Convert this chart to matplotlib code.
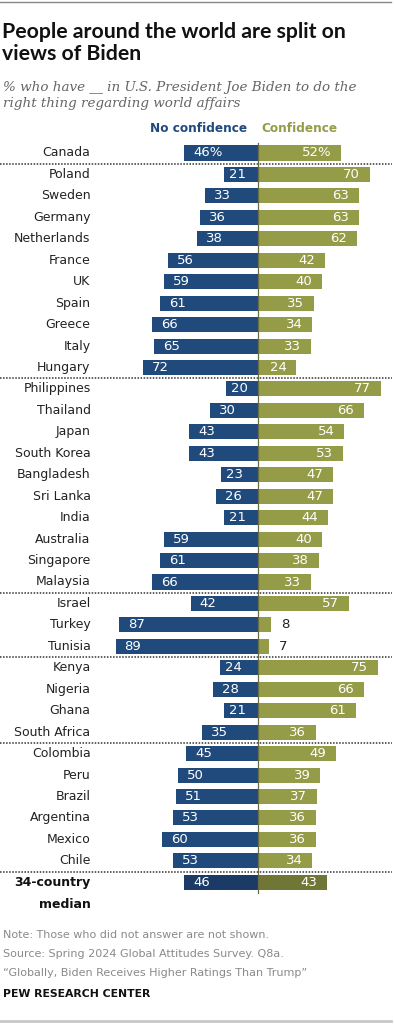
import matplotlib
matplotlib.use("Agg")
import matplotlib.pyplot as plt

# DATA
countries = ["Canada", "Poland", "Sweden", "Germany", "Netherlands", "France", "UK",
             "Spain", "Greece", "Italy", "Hungary", "Philippines", "Thailand", "Japan",
             "South Korea", "Bangladesh", "Sri Lanka", "India", "Australia", "Singapore",
             "Malaysia", "Israel", "Turkey", "Tunisia", "Kenya", "Nigeria", "Ghana",
             "South Africa", "Colombia", "Peru", "Brazil", "Argentina", "Mexico", "Chile"]
no_conf = [46, 21, 33, 36, 38, 56, 59, 61, 66, 65, 72, 20, 30, 43, 43, 23, 26, 21, 59, 61,
           66, 42, 87, 89, 24, 28, 21, 35, 45, 50, 51, 53, 60, 53]
conf = [52, 70, 63, 63, 62, 42, 40, 35, 34, 33, 24, 77, 66, 54, 53, 47, 47, 44, 40, 38,
        33, 57, 8, 7, 75, 66, 61, 36, 49, 39, 37, 36, 36, 34]
median_label = "34-country\nmedian"
median_no, median_conf = 46, 43
group_ends = [0, 10, 20, 23, 27, 33]

# COLORS
BLUE = "#204a7c"
OLIVE = "#959c48"
BLUE_DARK = "#1b3a66"
OLIVE_DARK = "#6f7636"
GRAY = "#8a8a8a"

W, H = 394, 1024
CX = 258.0      # pixel x of the zero line
PXU = 1.6       # pixels per percentage point
Y0 = 153.0      # pixel y of first row
DY = 21.45      # pixel row spacing

fig = plt.figure(figsize=(W / 100, H / 100), dpi=100)
ax = fig.add_axes([0, 0, 1, 1])
ax.set_xlim(-CX / PXU, (W - CX) / PXU)
ax.set_ylim((H - Y0) / DY, -Y0 / DY)
ax.axis("off")

def fx(px):
    return px / W

def fy(py):
    return 1 - py / H

n = len(countries)
ys = list(range(n))
bh = 0.70

ax.barh(ys, [-v for v in no_conf], height=bh, color=BLUE)
ax.barh(ys, conf, height=bh, color=OLIVE)
ax.barh([n], [-median_no], height=bh, color=BLUE_DARK)
ax.barh([n], [median_conf], height=bh, color=OLIVE_DARK)

lab_x = (90.5 - CX) / PXU
pad_b = 9 / PXU
pad_o = 10 / PXU
for i, (c, a, b) in enumerate(zip(countries, no_conf, conf)):
    ax.text(lab_x, i, c, ha="right", va="center", fontsize=9, color="#222222")
    sa = f"{a}%" if i == 0 else f"{a}"
    sb = f"{b}%" if i == 0 else f"{b}"
    ax.text(-a + (pad_b if a > 25 else 5 / PXU), i, sa, ha="left", va="center",
            fontsize=9.5, color="white")
    if b >= 12:
        ax.text(b - pad_o, i, sb, ha="right", va="center", fontsize=9.5, color="white")
    else:
        ax.text(b + pad_o, i, sb, ha="left", va="center", fontsize=9.5, color="#222222")

ax.text(-median_no + pad_b, n, str(median_no), ha="left", va="center", fontsize=9.5, color="white")
ax.text(median_conf - pad_o, n, str(median_conf), ha="right", va="center", fontsize=9.5, color="white")
for k, line in enumerate(median_label.split("\n")):
    ax.text(lab_x, n + k * 1.03, line, ha="right", va="center", fontsize=9,
            fontweight="bold", color="#111111")

# separators
for g in group_ends:
    ax.plot([-CX / PXU, (W - 2 - CX) / PXU], [g + 0.5, g + 0.5], color="#333333",
            linewidth=1.1, linestyle=(0, (1, 1)))

# zero line
ax.plot([0, 0], [-0.45, n + 0.5], color="#6b6b45", linewidth=0.9)

# legend headers
ax.text((247 - CX) / PXU, (128 - Y0) / DY, "No confidence", ha="right", va="center",
        fontsize=8.7, fontweight="bold", color=BLUE)
ax.text((261 - CX) / PXU, (128 - Y0) / DY, "Confidence", ha="left", va="center",
        fontsize=8.7, fontweight="bold", color=OLIVE)

# top / bottom rules
fig.add_artist(plt.Line2D([0, 0.993], [fy(2), fy(2)], color="#888888", linewidth=1))
fig.add_artist(plt.Line2D([0, 0.993], [fy(1021), fy(1021)], color="#c8c8c8", linewidth=2))

# title
fig.text(fx(2), fy(43), "People around the world are split on\nviews of Biden",
         ha="left", va="center", fontsize=15.3, fontweight="bold", color="#111111",
         linespacing=1.13, family="Lato")
fig.text(fx(3), fy(95), "% who have __ in U.S. President Joe Biden to do the\nright thing regarding world affairs",
         ha="left", va="center", fontsize=9.7, style="italic", family="DejaVu Serif",
         color="#666666", linespacing=1.3)

# footer
fig.text(fx(3), fy(935), "Note: Those who did not answer are not shown.", ha="left", va="center",
         fontsize=8, color=GRAY)
fig.text(fx(3), fy(954), "Source: Spring 2024 Global Attitudes Survey. Q8a.", ha="left", va="center",
         fontsize=8, color=GRAY)
fig.text(fx(3), fy(973), "\u201cGlobally, Biden Receives Higher Ratings Than Trump\u201d", ha="left",
         va="center", fontsize=8, color=GRAY)
fig.text(fx(3), fy(994), "PEW RESEARCH CENTER", ha="left", va="center", fontsize=7.8,
         fontweight="bold", color="#111111")

fig.savefig("out.png", dpi=100)
